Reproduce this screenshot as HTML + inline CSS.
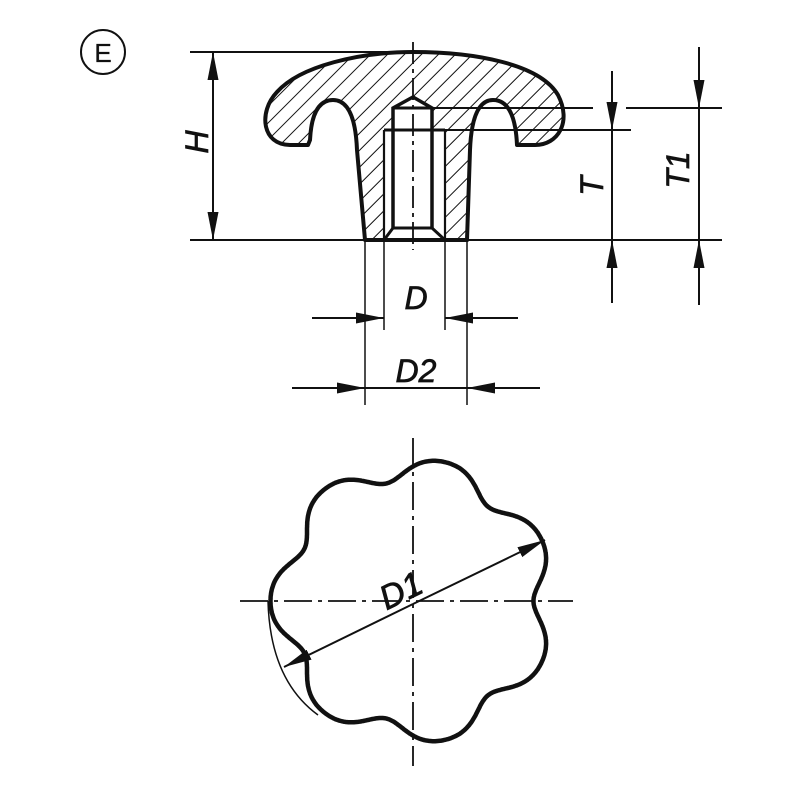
<!DOCTYPE html>
<html><head><meta charset="utf-8"><style>
html,body{margin:0;padding:0;background:#fff;}
svg{display:block;}
text{font-family:"Liberation Sans",sans-serif;font-style:italic;fill:#111;stroke:#111;stroke-width:0.7;}
</style></head><body>
<svg id="s" width="800" height="800" viewBox="0 0 800 800" xmlns="http://www.w3.org/2000/svg">
<defs>
<pattern id="h" patternUnits="userSpaceOnUse" width="12" height="12" patternTransform="rotate(45)">
<line x1="0" y1="-2" x2="0" y2="14" stroke="#111" stroke-width="2"/>
</pattern>
<marker id="a" markerWidth="30" markerHeight="12" refX="28" refY="6" orient="auto" markerUnits="userSpaceOnUse">
<path d="M0,0.5 L28,6 L0,11.5 Z" fill="#111"/>
</marker>
</defs>
<g stroke="#111" fill="none">
<circle cx="103" cy="52" r="22" stroke-width="2"/>
<line x1="190" y1="52" x2="410" y2="52" stroke-width="2"/>
<line x1="190" y1="240" x2="722" y2="240" stroke-width="2"/>
<line x1="432" y1="108" x2="593" y2="108" stroke-width="2"/>
<line x1="626" y1="108" x2="722" y2="108" stroke-width="2"/>
<line x1="445" y1="130" x2="631" y2="130" stroke-width="2"/>
<path d="M365,240 L357,150 Q355,100 333,100 Q312,100 310,140 L308,145 L290,145 C262,145 258,112 277,92 C300,66 360,52 413,52 C475,52 540,64 558,95 C572,122 558,145 535,145 L517,145 Q515,100 493,100 Q472,100 470,150 L467,240 Z" fill="url(#h)" stroke-width="4" stroke-linejoin="round"/>
<path d="M384,130 L384,240 L445,240 L445,130 L432,130 L432,108 L413,97 L393,108 L393,130 Z" fill="#fff" stroke="none"/>
<path d="M393,228 L393,108 L413,97 L432,108 L432,228" stroke-width="3.5"/>
<line x1="393" y1="108" x2="432" y2="108" stroke-width="3"/>
<line x1="384" y1="130" x2="445" y2="130" stroke-width="3"/>
<line x1="384" y1="130" x2="384" y2="240" stroke-width="2.2"/>
<line x1="445" y1="130" x2="445" y2="240" stroke-width="2.2"/>
<path d="M384,240 L393,228 L432,228 L445,240" stroke-width="3"/>
<line x1="365" y1="240" x2="467" y2="240" stroke-width="4"/>
<line x1="413" y1="42" x2="413" y2="250" stroke-width="1.8" stroke-dasharray="22,5,4,5"/>
<line x1="213" y1="146" x2="213" y2="52" stroke-width="2" marker-end="url(#a)"/>
<line x1="213" y1="146" x2="213" y2="240" stroke-width="2" marker-end="url(#a)"/>
<line x1="612" y1="71" x2="612" y2="130" stroke-width="2" marker-end="url(#a)"/>
<line x1="612" y1="130" x2="612" y2="240" stroke-width="2"/>
<line x1="612" y1="303" x2="612" y2="240" stroke-width="2" marker-end="url(#a)"/>
<line x1="699" y1="47" x2="699" y2="108" stroke-width="2" marker-end="url(#a)"/>
<line x1="699" y1="108" x2="699" y2="240" stroke-width="2"/>
<line x1="699" y1="305" x2="699" y2="240" stroke-width="2" marker-end="url(#a)"/>
<line x1="384" y1="240" x2="384" y2="330" stroke-width="1.5"/>
<line x1="445" y1="240" x2="445" y2="330" stroke-width="1.5"/>
<line x1="312" y1="318" x2="384" y2="318" stroke-width="2" marker-end="url(#a)"/>
<line x1="518" y1="318" x2="445" y2="318" stroke-width="2" marker-end="url(#a)"/>
<line x1="365" y1="240" x2="365" y2="405" stroke-width="1.5"/>
<line x1="467" y1="240" x2="467" y2="405" stroke-width="1.5"/>
<line x1="292" y1="388" x2="365" y2="388" stroke-width="2" marker-end="url(#a)"/>
<line x1="365" y1="388" x2="467" y2="388" stroke-width="2"/>
<line x1="540" y1="388" x2="467" y2="388" stroke-width="2" marker-end="url(#a)"/>
<line x1="240" y1="601" x2="573" y2="601" stroke-width="1.8" stroke-dasharray="28,6,4,6"/>
<line x1="413" y1="438" x2="413" y2="766" stroke-width="1.8" stroke-dasharray="28,6,4,6"/>
<path id="star" stroke-width="4.5" stroke-linejoin="round"/>
<path d="M268,601 Q270,680 318,715" stroke-width="1.5"/>
<line x1="413" y1="604" x2="545" y2="540" stroke-width="2" marker-end="url(#a)"/>
<line x1="413" y1="604" x2="284" y2="667" stroke-width="2" marker-end="url(#a)"/>
</g>
<text x="103" y="62" font-size="26" text-anchor="middle" style="font-style:normal;stroke-width:0.3">E</text>
<text transform="translate(208,142) rotate(-90)" font-size="32" text-anchor="middle">H</text>
<text transform="translate(603,186) rotate(-90)" font-size="32" text-anchor="middle">T</text>
<text transform="translate(689,170) rotate(-90)" font-size="32" text-anchor="middle">T1</text>
<text x="416" y="309" font-size="32" text-anchor="middle">D</text>
<text x="416" y="382" font-size="32" text-anchor="middle">D2</text>
<text transform="translate(406,601) rotate(-26)" font-size="34" text-anchor="middle">D1</text>
</svg>
<script>
(function(){
var cx=413,cy=601,d="";
for(var i=0;i<=720;i++){
var t=i*Math.PI/360;
var c=Math.cos(7*(t-Math.PI));
var r=133+11*c-1.5*Math.cos(14*(t-Math.PI));
var x=cx+r*Math.cos(t),y=cy+r*Math.sin(t);
d+=(i?"L":"M")+x.toFixed(1)+","+y.toFixed(1);
}
document.getElementById("star").setAttribute("d",d+"Z");
})();
</script>
</body></html>
